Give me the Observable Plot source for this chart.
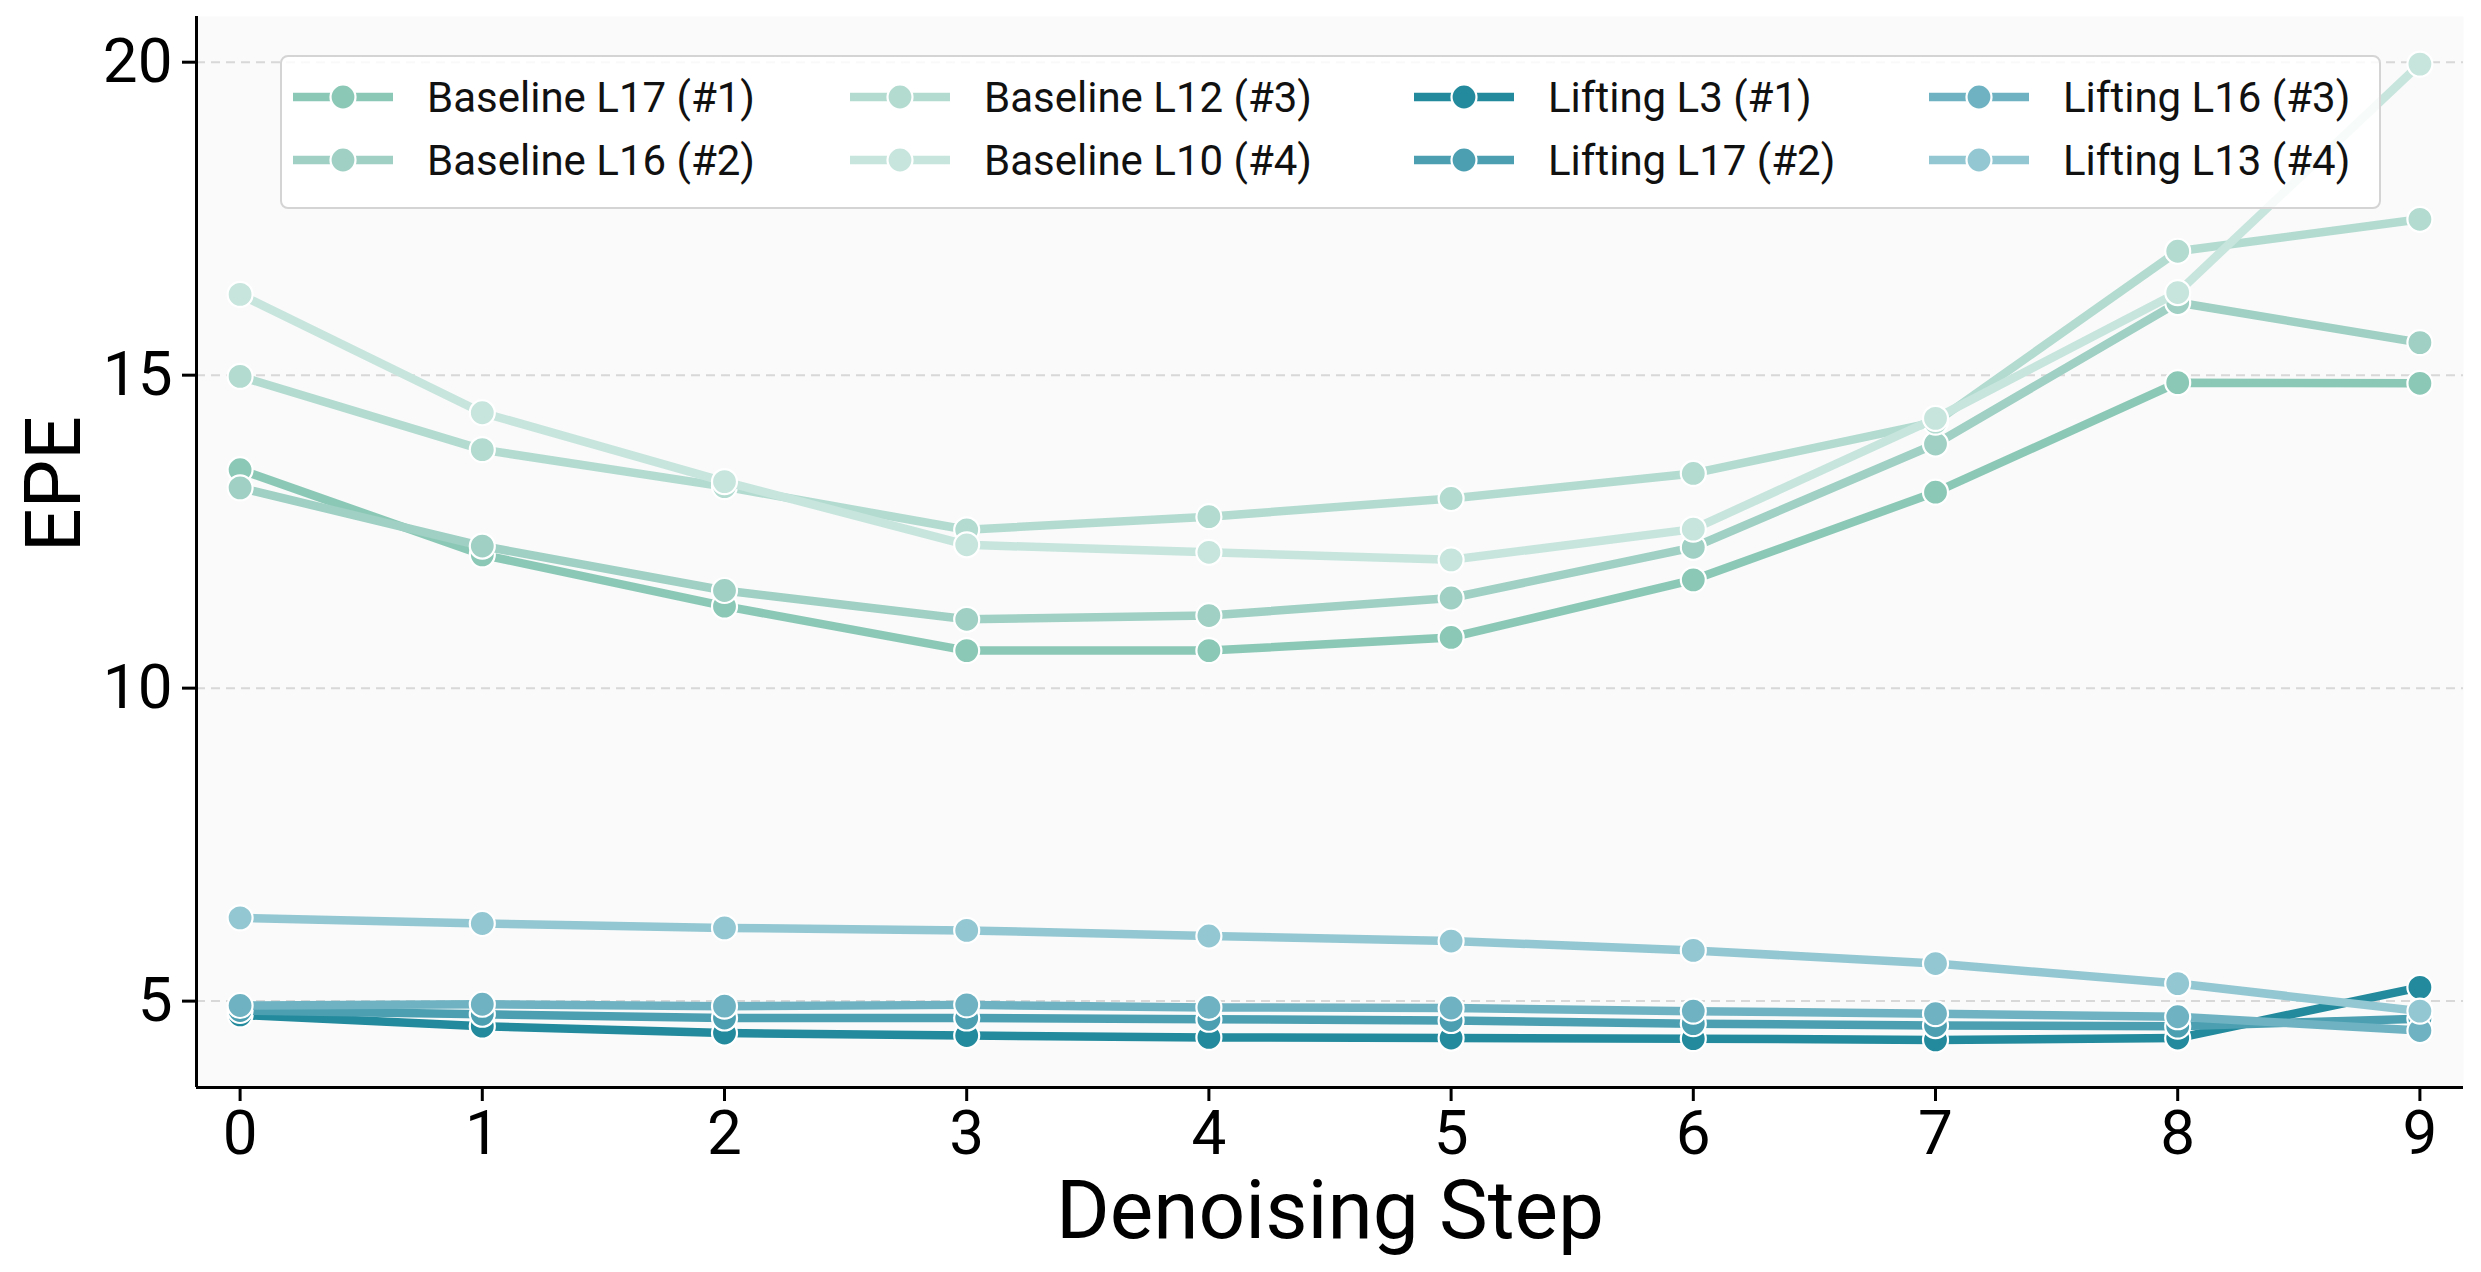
<!DOCTYPE html>
<html>
<head>
<meta charset="utf-8">
<script src="https://cdn.jsdelivr.net/npm/d3@7"></script>
<script src="https://cdn.jsdelivr.net/npm/@observablehq/plot@0.6"></script>
<style>
  html, body { margin: 0; padding: 0; background: #ffffff; }
  #wrap { position: relative; width: 2481px; height: 1272px; font-family: Roboto, "Noto Sans", sans-serif; }
  #legend { position: absolute; left: 280px; top: 55px; width: 2097px; height: 150px;
            border: 2px solid #d4d4d4; border-radius: 8px; background: rgba(255,255,255,0.85); box-sizing: content-box; }
  .item { position: absolute; display: flex; align-items: center; height: 50px; font-size: 42px; color: #111; white-space: nowrap; }
  .item svg { margin-right: 34px; }
</style>
</head>
<body>
<div id="wrap"></div>
<script>
// ---- data ----
const steps = [0, 1, 2, 3, 4, 5, 6, 7, 8, 9];

const baselineL17 = [13.49, 12.13, 11.31, 10.60, 10.60, 10.81, 11.73, 13.13, 14.88, 14.87];
const baselineL16 = [13.20, 12.27, 11.56, 11.10, 11.16, 11.44, 12.25, 13.90, 16.16, 15.52];
const baselineL12 = [14.98, 13.81, 13.22, 12.53, 12.74, 13.03, 13.43, 14.25, 16.98, 17.49];
const baselineL10 = [16.29, 14.40, 13.30, 12.29, 12.17, 12.05, 12.54, 14.31, 16.32, 19.97];
const liftingL3   = [4.78, 4.60, 4.49, 4.45, 4.42, 4.41, 4.40, 4.38, 4.41, 5.22];
const liftingL17  = [4.85, 4.79, 4.73, 4.73, 4.71, 4.69, 4.64, 4.61, 4.60, 4.72];
const liftingL16  = [4.93, 4.95, 4.92, 4.94, 4.90, 4.89, 4.84, 4.80, 4.75, 4.53];
const liftingL13  = [6.33, 6.24, 6.17, 6.13, 6.04, 5.96, 5.81, 5.60, 5.28, 4.84];

const seriesNames = [
  "Baseline L17 (#1)", "Baseline L16 (#2)", "Baseline L12 (#3)", "Baseline L10 (#4)",
  "Lifting L3 (#1)", "Lifting L17 (#2)", "Lifting L16 (#3)", "Lifting L13 (#4)"
];
const seriesValues = [baselineL17, baselineL16, baselineL12, baselineL10,
                      liftingL3, liftingL17, liftingL16, liftingL13];
const seriesColors = ["#8cc8b6", "#9fd0c3", "#b3dbd0", "#c7e5dd",
                      "#228a9c", "#4b9fb1", "#6fb3c2", "#93c7d2"];

const yTicks = [5, 10, 15, 20];
const xDomain = [-0.18, 9.18];
const yDomain = [3.62, 20.73];

// ---- chart ----
const font = "Roboto, 'Noto Sans', sans-serif";
const marks = [
  Plot.frame({fill: "#fafafa", stroke: "none"}),
  Plot.gridY(yTicks, {stroke: "#d8d8d8", strokeOpacity: 1, strokeWidth: 2, strokeDasharray: "9,6"}),
];
seriesNames.forEach((name, i) => {
  const data = steps.map((s, j) => ({step: s, epe: seriesValues[i][j], series: name}));
  marks.push(Plot.line(data, {x: "step", y: "epe", stroke: seriesColors[i], strokeWidth: 8.5,
                              strokeLinejoin: "round", strokeLinecap: "butt"}));
  marks.push(Plot.dot(data, {x: "step", y: "epe", r: 12.5, fill: seriesColors[i], stroke: "white", strokeWidth: 2.2}));
});
marks.push(
  Plot.ruleX([xDomain[0]], {stroke: "black", strokeWidth: 3}),
  Plot.ruleY([yDomain[0]], {stroke: "black", strokeWidth: 3}),
  Plot.axisX({ticks: steps, tickFormat: d => String(d), tickSize: 14, tickPadding: 8, fontSize: 62,
              strokeWidth: 3, stroke: "black", fill: "black", label: null}),
  Plot.axisY({ticks: yTicks, tickFormat: d => String(d), tickSize: 14, tickPadding: 10, fontSize: 62,
              strokeWidth: 3, stroke: "black", fill: "black", label: null}),
  Plot.text(["EPE"], {frameAnchor: "left", rotate: -90, dx: -141, fontSize: 77, fill: "black", lineAnchor: "middle"}),
  Plot.text(["Denoising Step"], {frameAnchor: "bottom", dy: 124, fontSize: 82, fill: "black", lineAnchor: "middle"})
);

const chart = Plot.plot({
  width: 2481,
  height: 1272,
  marginLeft: 196,
  marginRight: 18,
  marginTop: 16,
  marginBottom: 185,
  x: {domain: xDomain},
  y: {domain: yDomain},
  style: {fontFamily: font, background: "transparent", color: "black"},
  marks
});

const wrap = document.getElementById("wrap");
wrap.appendChild(chart);

// ---- legend ----
const legend = document.createElement("div");
legend.id = "legend";
wrap.appendChild(legend);
const colX = [11, 568, 1132, 1647];   // within legend box
const rowY = [15, 78];
seriesNames.forEach((name, i) => {
  const col = Math.floor(i / 2), row = i % 2;
  const item = document.createElement("div");
  item.className = "item";
  item.style.left = colX[col] + "px";
  item.style.top = rowY[row] + "px";
  const c = seriesColors[i];
  item.innerHTML = `<svg width="100" height="30" viewBox="0 0 100 30">
      <line x1="0" y1="15" x2="100" y2="15" stroke="${c}" stroke-width="8.5"/>
      <circle cx="50" cy="15" r="12.5" fill="${c}" stroke="white" stroke-width="2.2"/>
    </svg><span>${name}</span>`;
  legend.appendChild(item);
});
</script>
</body>
</html>
